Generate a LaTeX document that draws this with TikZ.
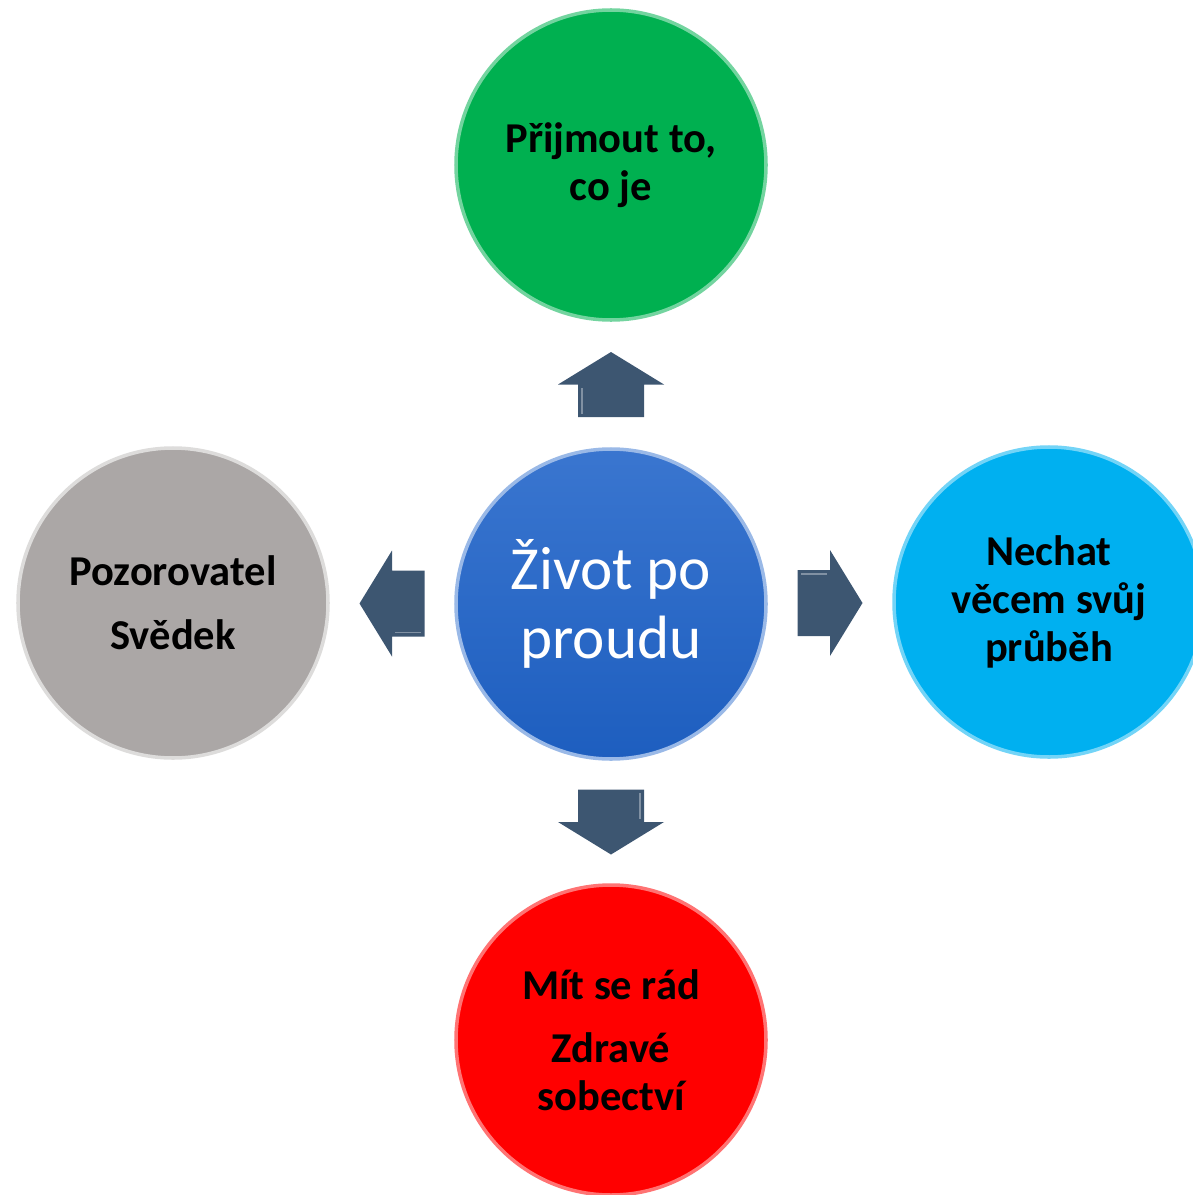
\documentclass[tikz,border=0pt]{standalone}
\usepackage{fontspec}
\setmainfont{Carlito}
\usepackage{xcolor}
\usetikzlibrary{positioning,calc}
\definecolor{lifeblue}{RGB}{31,99,201}
\definecolor{acceptgreen}{RGB}{0,176,80}
\definecolor{witnessgray}{RGB}{171,167,166}
\definecolor{letcyan}{RGB}{0,176,240}
\definecolor{lovered}{RGB}{255,0,0}
\definecolor{arrowblue}{RGB}{61,86,113}
\newcommand{\blockarrow}[3]{
  % #1 = from node, #2 = to node, #3 = angle
  \begin{scope}[shift={($(#1)!.5!(#2)$)},rotate=#3]
    \fill[arrowblue] (-0.325,-0.33) -- (0,-0.33) -- (0,-0.53) -- (0.325,0)
      -- (0,0.53) -- (0,0.33) -- (-0.325,0.33) -- cycle;
    \draw[white!35!arrowblue,line width=.5pt] (-0.29,-0.29) -- (-0.03,-0.29);
  \end{scope}
}
\tikzstyle{bubble}=[circle, minimum size=3.1cm, inner sep=0pt, outer sep=0pt, line width=1pt, align=center, font=\fontsize{12.1}{13.6}\selectfont\bfseries]
\tikzset{y=-1cm}
\tikzset{x=1cm}
\tikzstyle{hub}=[bubble, top color=lifeblue!88!white, bottom color=lifeblue!95!black, draw=lifeblue!45!white, text=white, font=\fontsize{17.4}{19.5}\selectfont]

\begin{document}
\begin{tikzpicture}
  \useasboundingbox (0,0) rectangle (11.93,11.95);
  \draw (6.11,6.04) node[hub] (life) {Život po\\proudu};

  \draw (6.11,1.65) node[bubble,fill=acceptgreen,draw=acceptgreen!55!white] (accept) {Přijmout to,\\co je};
  \draw (1.73,6.03) node[bubble,fill=witnessgray,draw=witnessgray!40!white] (witness) {Pozorovatel\\[4.5pt]Svědek};
  \draw (10.49,6.02) node[bubble,fill=letcyan,draw=letcyan!55!white] (let) {Nechat\\věcem svůj\\průběh};
  \draw (6.11,10.40) node[bubble,fill=lovered,draw=lovered!55!white] (love) {Mít se rád\\[4.5pt]Zdravé\\sobectví};

  \blockarrow{life.north}{accept.south}{90}
  \blockarrow{life.south}{love.north}{-90}
  \blockarrow{life.west}{witness.east}{180}
  \blockarrow{life.east}{let.west}{0}
\end{tikzpicture}
\end{document}
